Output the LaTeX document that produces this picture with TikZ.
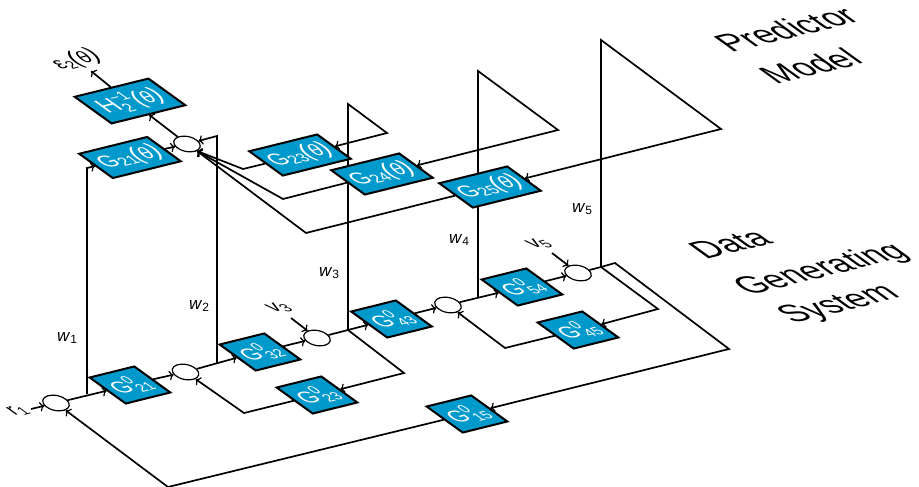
\documentclass[tikz,border=0pt]{standalone}
\usepackage{fontspec}
\usepackage{graphicx}
\setmainfont{Liberation Sans}
\usetikzlibrary{shapes.geometric,arrows.meta,backgrounds}
\definecolor{boxblue}{HTML}{0099CC}
\newcommand\fsz[1]{\fontsize{#1}{#1}\selectfont}
\newcommand\tall[1]{\scalebox{1}[1.18]{#1}}
\newcommand\tallb[1]{\scalebox{1}[1.1]{#1}}
\newcommand\GZ[1]{\tall{\fsz{21}G\rlap{\raisebox{.42em}{\fsz{14}0}}\raisebox{-.2em}{\fsz{14}\,#1}}}
\newcommand\thet{{\fsz{24}\textit{(\fsz{20}θ\fsz{24})}}}
\newcommand\GT[1]{\tall{\fsz{21}G\raisebox{-.12em}{\fsz{15}#1}\thet}}
\tikzset{
  x=1pt,y=-1pt,
  iso/.style={cm={.97,.24,-.81,.585,(0,0)},transform shape},
  isobox/.style={iso,draw=black,line width=2pt,fill=boxblue,text=white,inner sep=0pt,rectangle,align=center},
  small/.style={isobox,minimum width=46pt,minimum height=44.5pt},
  wide/.style={isobox,minimum width=70pt,minimum height=41.5pt},
  widest/.style={isobox,minimum width=76pt,minimum height=45.5pt},
  sumj/.style={ellipse,draw=black,line width=1.2pt,fill=white,minimum width=27pt,minimum height=15pt,inner sep=0pt,rotate=-12},
  conn/.style={draw=black,line width=1.7pt,line join=miter},
  arr/.style={conn,-{To[length=4.5pt,width=9.5pt,line width=1.2pt]}},
  wlab/.style={font=\fsz{17},inner sep=0pt},
  isotext/.style={iso,inner sep=0pt,text=black},
  big/.style={isotext,font=\fsz{33.5}},
  tiny/.style={isotext,font=\fsz{20}}
}
\begin{document}
\begin{tikzpicture}
\useasboundingbox (0,0) rectangle (919,487);
% blocks
\node[small] (g21) at (130,385) {\GZ{21}};
\node[small] (g32) at (260,352) {\GZ{32}};
\node[small] (g23) at (317,395) {\GZ{23}};
\node[small] (g43) at (391.5,319) {\GZ{43}};
\node[small] (g54) at (522,287) {\GZ{54}};
\node[small] (g45) at (578,330) {\GZ{45}};
\node[small] (g15) at (467,414) {\GZ{15}};
\node[widest] (h2) at (130,101) {\tall{\fsz{24}H\rlap{\raisebox{.42em}{\fsz{15}−1}}\raisebox{-.22em}{\fsz{15}2}\,\,\thet}};
\node[wide] (m21) at (130,157.5) {\GT{21}};
\node[wide] (m23) at (300,155) {\GT{23}};
\node[wide] (m24) at (382,174) {\GT{24}};
\node[wide] (m25) at (490,187) {\GT{25}};
% summing junctions
\node[sumj] (c0) at (187,144) {};
\node[sumj] (c1) at (56,403) {};
\node[sumj] (c2) at (185.5,372) {};
\node[sumj] (c3) at (317,338) {};
\node[sumj] (c4) at (448,305) {};
\node[sumj] (c5) at (578,273) {};
% routing points
\coordinate (r1in) at (31,409);
\coordinate (v3in) at (291,318);
\coordinate (v5in) at (552,253);
\coordinate (out) at (91,71);
\coordinate (j1) at (87,394);
\coordinate (j2) at (217,363);
\coordinate (j3) at (348,330);
\coordinate (j4) at (478,297);
\coordinate (j5) at (601,267);
\coordinate (t1) at (87,168);
\coordinate (t2) at (217,136);
\coordinate (t3) at (348,104);
\coordinate (t4) at (478,71);
\coordinate (t5) at (601,40);
\coordinate (f3) at (387,133);
\coordinate (f4) at (558,130);
\coordinate (f5) at (721,129);
\coordinate (b23a) at (404,373);
\coordinate (b23b) at (244,413);
\coordinate (b45a) at (658,309);
\coordinate (b45b) at (505,348);
\coordinate (b15a) at (615,263);
\coordinate (b15b) at (729,349);
\coordinate (b15c) at (168,487);
\coordinate (p3) at (243,169);
\coordinate (p4) at (283,199);
\coordinate (p5) at (306,233);
\coordinate (c0in) at (197,151);
\begin{scope}[on background layer]
\draw[arr] (r1in) -- (c1);
\draw[arr] (c1) -- (g21.west);
\draw[arr] (g21.east) -- (c2);
\draw[arr] (c2) -- (g32.west);
\draw[arr] (g32.east) -- (c3);
\draw[arr] (c3) -- (g43.west);
\draw[arr] (g43.east) -- (c4);
\draw[arr] (c4) -- (g54.west);
\draw[arr] (g54.east) -- (c5);
\draw[conn] (c5) -- (j5);
\draw[arr] (v3in) -- (c3);
\draw[arr] (v5in) -- (c5);
\draw[arr] (j1) -- (t1) -- (m21.west);
\draw[arr] (j2) -- (t2) -- (c0);
\draw[arr] (j3) -- (t3) -- (f3) -- (m23.east);
\draw[arr] (j4) -- (t4) -- (f4) -- (m24.east);
\draw[arr] (j5) -- (t5) -- (f5) -- (m25.east);
\draw[arr] (j3) -- (b23a) -- (g23.east);
\draw[arr] (g23.west) -- (b23b) -- (c2);
\draw[arr] (j5) -- (b45a) -- (g45.east);
\draw[arr] (g45.west) -- (b45b) -- (c4);
\draw[arr] (j5) -- (b15a) -- (b15b) -- (g15.east);
\draw[arr] (g15.west) -- (b15c) -- (c1);
\draw[arr] (m21.east) -- (c0);
\draw[arr] (c0) -- (h2.south);
\draw[arr] (h2.north) -- (out);
\draw[arr] (m23.west) -- (p3) -- (c0in);
\draw[arr] (m24.west) -- (p4) -- (c0in);
\draw[arr] (m25.west) -- (p5) -- (c0in);
\end{scope}
% labels
\node[wlab] (lw1) at (67,338) {\textit{w}\raisebox{-.15em}{\fsz{12}1}};
\node[wlab] (lw2) at (199,306) {\textit{w}\raisebox{-.15em}{\fsz{12}2}};
\node[wlab] (lw3) at (329,273) {\textit{w}\raisebox{-.15em}{\fsz{12}3}};
\node[wlab] (lw4) at (459,240) {\textit{w}\raisebox{-.15em}{\fsz{12}4}};
\node[wlab] (lw5) at (582,209) {\textit{w}\raisebox{-.15em}{\fsz{12}5}};
\node[tiny] (lr1) at (18,411) {\tall{r\raisebox{-.15em}{\fsz{14}1}}};
\node[tiny] (lv3) at (279,308) {\tall{v\raisebox{-.15em}{\fsz{14}3}}};
\node[tiny] (lv5) at (539,244) {\tall{v\raisebox{-.15em}{\fsz{14}5}}};
\node[tiny] (le2) at (76,60) {\tall{ε\raisebox{-.15em}{\fsz{14}2}\thet}};
\node[big] (t1a) at (786,29) {\tallb{Predictor}};
\node[big] (t1b) at (810,66) {\tallb{Model}};
\node[big] (t2a) at (730,244) {\tallb{Data}};
\node[big] (t2b) at (822,270) {\tallb{Generating}};
\node[big] (t2c) at (840,305) {\tallb{System}};
\end{tikzpicture}
\end{document}
